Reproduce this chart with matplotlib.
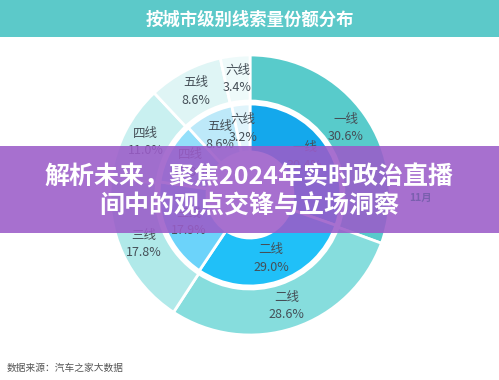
import numpy as np
import matplotlib
matplotlib.use('Agg')
import matplotlib.pyplot as plt
from matplotlib.patches import Rectangle

plt.rcParams['font.family'] = ['Noto Sans CJK SC', 'DejaVu Sans']

# city tiers and shares (%), outer ring and inner ring
tiers = ['一线', '二线', '三线', '四线', '五线', '六线']
outer_share = [30.6, 28.6, 17.8, 11.0, 8.6, 3.4]
inner_share = [30.4, 29.0, 17.9, 10.9, 8.6, 3.2]

outer_colors = ['#58cbcb', '#86dddd', '#b0e9e9', '#c9f0f0', '#dff5f5', '#eefafa']
inner_colors = ['#14a8ec', '#20c0f8', '#6cd3fa', '#93dffa', '#bde9f9', '#e0f4fb']

title = '按城市级别线索量份额分布'
banner = ['解析未来，聚焦2024年实时政治直播', '间中的观点交锋与立场洞察']
source = '数据来源：汽车之家大数据'

W, H = 499, 380
fig = plt.figure(figsize=(W / 100, H / 100), dpi=100)
fig.patch.set_facecolor('white')


def fx(px):
    return px / W


def fy(py):
    return 1 - py / H


# pie axes in pixel units, centre at (250, 195)
ax = fig.add_axes([fx(100), fy(345), 300 / W, 300 / H])

wedge_kw = dict(edgecolor='white', linewidth=2)
outer_w, _ = ax.pie(outer_share, radius=140, colors=outer_colors, startangle=90,
                    counterclock=False, wedgeprops=dict(width=46, **wedge_kw))
inner_w, _ = ax.pie(inner_share, radius=91, colors=inner_colors, startangle=90,
                    counterclock=False, wedgeprops=dict(width=48, **wedge_kw))
ax.set_xlim(-150, 150)
ax.set_ylim(-150, 150)
ax.set_aspect('equal')
ax.axis('off')


def label_ring(wedges, shares, r):
    for w, name, val in zip(wedges, tiers, shares):
        ang = np.deg2rad((w.theta1 + w.theta2) / 2)
        ax.text(r * np.cos(ang), r * np.sin(ang), f'{name}\n{val:.1f}%',
                ha='center', va='center', fontsize=9, color='#454f57',
                linespacing=1.45)


label_ring(outer_w, outer_share, 117)
label_ring(inner_w, inner_share, 67)

# title bar
fig.patches.append(Rectangle((0, fy(37)), 1, 37 / H, transform=fig.transFigure,
                             facecolor='#5cc9c9', edgecolor='none', zorder=1))
fig.text(0.5, fy(20), title, ha='center', va='center', fontsize=12.5,
         fontweight='bold', color='white', zorder=3)

# purple banner over the chart
fig.patches.append(Rectangle((0, fy(233)), 1, 87 / H, transform=fig.transFigure,
                             facecolor='#9b5cc9', alpha=0.88, edgecolor='none', zorder=2))
fig.text(fx(420), fy(198), '11月', ha='center', va='center', fontsize=7.5,
         fontweight='bold', color='#7a5fae', zorder=3)
fig.text(fx(249), fy(177), banner[0], ha='center', va='center', fontsize=18,
         fontweight='bold', color='white', zorder=4)
fig.text(fx(249), fy(207), banner[1], ha='center', va='center', fontsize=18,
         fontweight='bold', color='white', zorder=4)

fig.text(fx(7), fy(368), source, ha='left', va='center', fontsize=7, color='#555555')

fig.savefig('out.png', dpi=100)
